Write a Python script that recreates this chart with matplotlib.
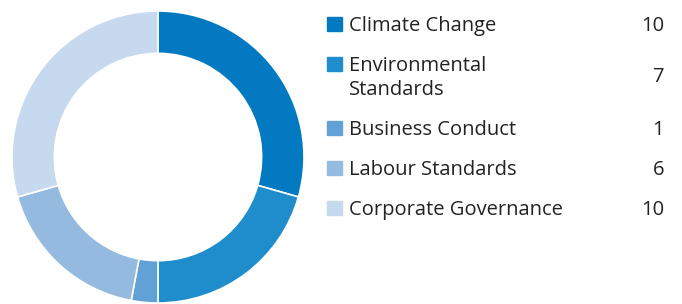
import matplotlib.pyplot as plt
from matplotlib.patches import Rectangle

labels = ["Climate Change", "Environmental\nStandards", "Business Conduct",
          "Labour Standards", "Corporate Governance"]
values = [10, 7, 1, 6, 10]
colors = ["#0279C1", "#1F8DCC", "#62A1D6", "#95BAE0", "#C6D9EF"]

W, H = 682, 304
fig = plt.figure(figsize=(W / 100, H / 100), dpi=100)

# donut
ax = fig.add_axes([12 / W, 1 / H, 292 / W, 292 / H])
ax.pie(values, colors=colors, startangle=90, counterclock=False, radius=1,
       wedgeprops=dict(width=0.29, edgecolor="white", linewidth=1.2))
ax.set_xlim(-1, 1)
ax.set_ylim(-1, 1)
ax.set_aspect("equal")
ax.axis("off")

# legend table (baselines in pixels from top)
base_y = [31, 71, 135, 175, 215]
val_y = [31, 82, 135, 175, 215]
font = dict(family="Open Sans", fontsize=14.5, color="#222222")
for lab, v, c, by, vy in zip(labels, values, colors, base_y, val_y):
    fig.patches.append(Rectangle((327 / W, 1 - by / H), 15 / W, 14 / H,
                                 transform=fig.transFigure, color=c))
    for i, line in enumerate(lab.split("\n")):
        fig.text(349 / W, 1 - (by + 24 * i) / H, line, ha="left",
                 va="baseline", **font)
    fig.text(664 / W, 1 - vy / H, str(v), ha="right", va="baseline", **font)

fig.savefig("out.png", dpi=100)
